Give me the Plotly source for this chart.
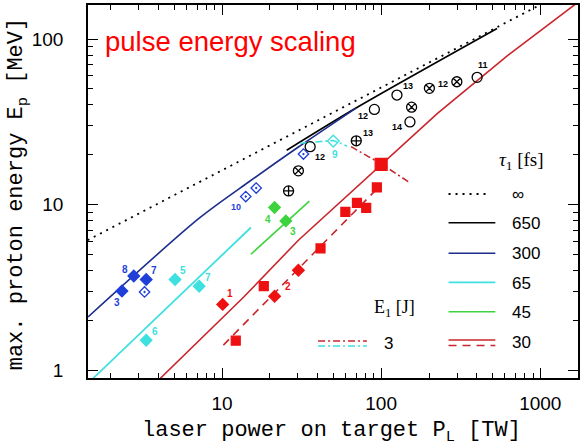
import math
import plotly.graph_objects as go

# ---------------- data (P in TW, E in MeV) ----------------
# model curves, pulse duration tau_1 [fs]
inf_P = [1.43, 10, 100, 1000]
inf_E = [6.1, 16.1, 51, 161]
t650_P = [25.5, 69.5, 535]
t650_E = [21.3, 38.3, 115.7]
t300_P = [1.44, 7.19, 14.7, 30.2, 69.5]
t300_E = [2.10, 8.29, 13.7, 22.3, 38.3]
t65_P = [1.55, 15.2]
t65_E = [0.895, 7.28]
t45_P = [15.2, 35.4]
t45_E = [5.02, 10.5]
t30_P = [4.10, 13.7, 30.2, 100.3, 226, 617, 1687]
t30_E = [0.895, 2.77, 6.10, 17.6, 35.6, 78.9, 164]
t30d_P = [10.2, 95.3]
t30d_E = [1.42, 12.6]
# E_1 = 3 J curves
e3r_P = [64.7, 100.3, 153]
e3r_E = [22.4, 17.6, 13.5]
e3c_P = [31.1, 50.0, 61.1]
e3c_E = [23.5, 24.4, 22.6]

# measured points
blue_P = [2.35, 2.79, 3.34]
blue_E = [3.01, 3.71, 3.53]
blue_lbl = ["3", "8", "7"]
blue_open_P = [3.26, 14.1, 16.4, 32.5]
blue_open_E = [2.97, 11.2, 12.6, 20.2]
blue_open_lbl = ["", "10", "", ""]
cyan_P = [5.07, 7.19, 3.34]
cyan_E = [3.53, 3.22, 1.52]
cyan_lbl = ["5", "7", "6"]
cyan_open_P = [50.0]
cyan_open_E = [24.2]
cyan_open_lbl = ["9"]
green_P = [21.4, 25.2]
green_E = [9.62, 7.98]
green_lbl = ["4", "3"]
red_dia_P = [10.1, 21.4, 30.2]
red_dia_E = [2.50, 2.80, 4.02]
red_dia_lbl = ["1", "2", ""]
red_sq_P = [12.2, 18.3, 41.6, 59.6, 70.5, 80.6, 94.0]
red_sq_E = [1.51, 3.22, 5.44, 9.05, 10.25, 9.56, 12.7]
red_big_P = [100]
red_big_E = [17.5]
circ_P = [35.8, 90.7, 125.7, 151.7, 401]
circ_E = [22.4, 37.6, 45.9, 31.6, 58.7]
circ_lbl = ["12", "12", "13", "14", "11"]
plus_P = [26.2, 69.8]
plus_E = [12.1, 24.3]
plus_lbl = ["", "13"]
cross_P = [30.2, 155.4, 201, 299]
cross_E = [16.0, 38.8, 50.4, 55.2]
cross_lbl = ["", "", "", "12"]

tau_vals = ["∞", "650", "300", "65", "45", "30"]

# ---------------- styling ----------------
BLUE_M = "#1f3fd8"
BLUE_L = "#1c2d8c"
CYAN = "#3fe0e0"
GREEN = "#3ed33e"
RED_M = "#ee1111"
RED_L = "#c8262c"

fig = go.Figure()

def line(P, E, color, dash="solid", width=1.6, shape="linear"):
    fig.add_trace(go.Scatter(x=P, y=E, mode="lines",
                             line=dict(color=color, dash=dash, width=width,
                                       shape=shape, smoothing=0.8),
                             hoverinfo="skip", showlegend=False))

line(inf_P, inf_E, "black", "2px,5px", 1.8)
line(t650_P, t650_E, "black", shape="spline")
line(t300_P, t300_E, BLUE_L, shape="spline")
line(t65_P, t65_E, CYAN, width=1.8)
line(t45_P, t45_E, GREEN)
line(t30_P, t30_E, RED_L)
line(t30d_P, t30d_E, RED_L, "8px,6px")
line(e3r_P, e3r_E, RED_L, "7px,3px,2px,3px")
line(e3c_P, e3c_E, CYAN, "7px,3px,2px,3px")

def pts(P, E, symbol, color, size, lw=1.2):
    fig.add_trace(go.Scatter(x=P, y=E, mode="markers",
                             marker=dict(symbol=symbol, color=color, size=size,
                                         line=dict(color=color, width=lw)),
                             hoverinfo="skip", showlegend=False))

pts(blue_P, blue_E, "diamond", BLUE_M, 9)
pts(blue_open_P, blue_open_E, "diamond-open-dot", BLUE_M, 8, 1.3)
pts(cyan_P, cyan_E, "diamond", CYAN, 9)
pts(cyan_open_P, cyan_open_E, "diamond-open", CYAN, 9, 1.4)
pts(green_P, green_E, "diamond", GREEN, 9)
pts(red_dia_P, red_dia_E, "diamond", RED_M, 9)
pts(red_sq_P, red_sq_E, "square", RED_M, 9)
pts(red_big_P, red_big_E, "square", RED_M, 12)
pts(circ_P, circ_E, "circle-open", "black", 10, 1.3)
pts(plus_P, plus_E, "circle-cross-open", "black", 10, 1.3)
pts(cross_P, cross_E, "circle-x-open", "black", 10, 1.3)

# point labels (pixel offsets are styling); log axes need log10 positions
annos = []
def labels(P, E, lbls, color, offs, size=10):
    for p, e, t, (dx, dy) in zip(P, E, lbls, offs):
        if not t:
            continue
        annos.append(dict(x=math.log10(p), y=math.log10(e), xref="x", yref="y",
                          text="<b>%s</b>" % t, showarrow=False, xshift=dx, yshift=dy,
                          font=dict(family="Liberation Sans, Arial", size=size, color=color)))

labels(blue_P, blue_E, blue_lbl, BLUE_M, [(-5, -11), (-9, 6), (8, 9)])
labels(blue_open_P, blue_open_E, blue_open_lbl, BLUE_M, [(0, 0), (-10, -10), (0, 0), (0, 0)], 9)
labels(cyan_P, cyan_E, cyan_lbl, CYAN, [(8, 9), (9, 9), (9, 9)])
labels(cyan_open_P, cyan_open_E, cyan_open_lbl, CYAN, [(2, -13)])
labels(green_P, green_E, green_lbl, GREEN, [(-7, -12), (7, -11)])
labels(red_dia_P, red_dia_E, red_dia_lbl, RED_M, [(7, 11), (13, 10), (0, 0)])
labels(circ_P, circ_E, circ_lbl, "black", [(10, -10), (-11, -7), (11, 9), (-13, -5), (6, 12)], 9)
labels(plus_P, plus_E, plus_lbl, "black", [(0, 0), (12, 8)], 9)
labels(cross_P, cross_E, cross_lbl, "black", [(0, 0), (0, 0), (0, 0), (-14, -2)], 9)

# frame geometry in pixels -> paper
L, R, T, B = 88, 580, 5, 378
W, H = R - L, B - T
def px(x):
    return (x - L) / W
def py(y):
    return (B - y) / H

shapes = []
def leg_line(x0, x1, y, color, dash="solid", width=1.6):
    shapes.append(dict(type="line", xref="paper", yref="paper",
                       x0=px(x0), x1=px(x1), y0=py(y), y1=py(y),
                       line=dict(color=color, dash=dash, width=width)))

leg_line(450, 492, 194, "black", "2px,5px", 1.8)
leg_line(450, 497, 222.7, "black")
leg_line(450, 497, 253.3, BLUE_L)
leg_line(450, 497, 282.3, CYAN, width=1.8)
leg_line(450, 497, 311.7, GREEN)
leg_line(450, 497, 340, RED_L)
leg_line(450, 497, 345.5, RED_L, "8px,6px")
leg_line(319, 368, 341, RED_L, "7px,3px,2px,3px")
leg_line(319, 368, 346, CYAN, "7px,3px,2px,3px")

def text(x, y, s, size=17, family="Liberation Sans, Arial", color="black", xanchor="left"):
    annos.append(dict(x=px(x), y=py(y), xref="paper", yref="paper", text=s,
                      showarrow=False, xanchor=xanchor, yanchor="middle",
                      font=dict(family=family, size=size, color=color)))

tau_y = [194, 223.3, 253.3, 283.3, 312.7, 342.7]
for s, y in zip(tau_vals, tau_y):
    text(512, y, s)
text(499, 161, "<i>τ</i><sub>1</sub> [fs]", 19, "Liberation Serif, serif")
text(373, 308, "E<sub>1</sub> [J]", 18, "Liberation Serif, serif")
text(383, 343, "3")
text(103, 42, "pulse energy scaling", 27.5, "Liberation Sans, Arial", "#ff0000")

# axis titles
annos.append(dict(x=px(332), y=py(432), xref="paper", yref="paper",
                  text="laser power on target P<sub>L</sub> [TW]", showarrow=False,
                  xanchor="center", yanchor="middle",
                  font=dict(family="Liberation Mono, monospace", size=22, color="black")))
annos.append(dict(x=px(18), y=py(194), xref="paper", yref="paper",
                  text="max. proton energy E<sub>p</sub> [MeV]", showarrow=False,
                  xanchor="center", yanchor="middle", textangle=-90,
                  font=dict(family="Liberation Mono, monospace", size=22, color="black")))

axis_common = dict(type="log", showline=True, linecolor="black", linewidth=1.5,
                   mirror="allticks", ticks="inside", ticklen=10, tickwidth=1.2,
                   tickcolor="black", dtick=1, showgrid=False, zeroline=False,
                   minor=dict(ticks="inside", ticklen=5, tickwidth=1, tickcolor="black",
                              showgrid=False),
                   tickfont=dict(family="Liberation Sans, Arial", size=19, color="black"))

fig.update_layout(
    width=581, height=447,
    margin=dict(l=L, r=581 - R, t=T, b=447 - B),
    paper_bgcolor="white", plot_bgcolor="white",
    xaxis=dict(range=[0.158, 3.237], ticklabelstandoff=7, **axis_common),
    yaxis=dict(range=[-0.0465, 2.2054], ticklabelstandoff=19, **axis_common),
    shapes=shapes, annotations=annos,
)

fig.write_html("out.html", config={"displayModeBar": False},
               post_script="document.body.style.margin='0px';"
                           "document.body.style.overflow='hidden';")
